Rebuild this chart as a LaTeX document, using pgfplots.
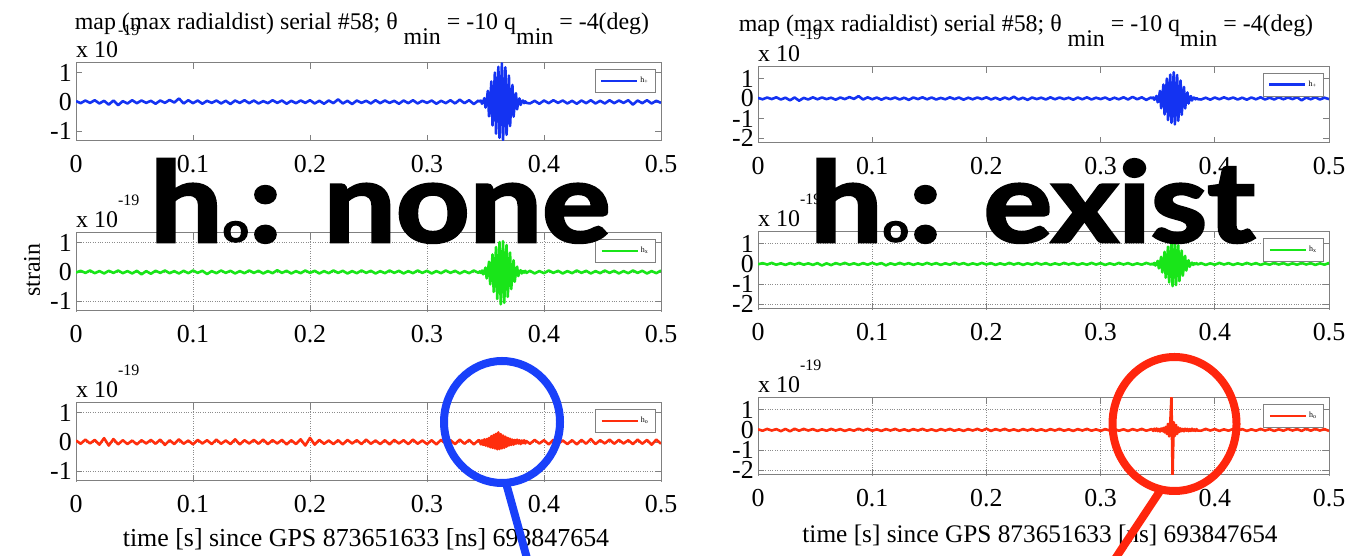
\documentclass[border=0pt]{standalone}
\usepackage{fontspec}
\setmainfont{Liberation Serif}
\newfontfamily\ovfont{Lato}[BoldFeatures={FakeBold=2.5}]
\usepackage{pgfplots}
\usepackage{pgfplotstable}
\pgfplotsset{compat=1.18}
\definecolor{mblue}{rgb}{0.08,0.2,0.95}
\definecolor{mgreen}{rgb}{0.1,0.9,0.1}
\definecolor{mred}{rgb}{1,0.18,0.05}
\definecolor{cblue}{rgb}{0.1,0.25,0.98}
\definecolor{cred}{rgb}{1,0.15,0.05}

\pgfplotstableread{
x hp hx hol hor
0.000 0.03 -0.02 0.05 0.03
0.004 -0.04 0.04 -0.06 -0.04
0.008 0.05 -0.03 0.08 0.05
0.012 -0.03 0.05 -0.05 -0.03
0.016 0.06 -0.04 0.07 0.04
0.020 -0.05 0.03 -0.09 -0.06
0.024 0.04 -0.05 0.13 0.05
0.028 -0.09 0.04 -0.12 -0.07
0.032 0.05 -0.03 0.10 0.06
0.036 -0.11 0.05 -0.08 -0.04
0.040 0.03 -0.04 0.06 0.05
0.044 -0.05 0.03 -0.07 -0.03
0.048 0.06 -0.05 0.05 0.04
0.052 -0.04 0.04 -0.08 -0.05
0.056 0.05 -0.08 0.06 0.03
0.060 -0.03 0.03 -0.05 -0.04
0.064 0.04 -0.06 0.07 0.05
0.068 -0.06 0.04 -0.06 -0.03
0.072 0.05 -0.03 0.08 0.04
0.076 -0.03 0.05 -0.10 -0.05
0.080 0.07 -0.04 0.06 0.03
0.084 -0.02 0.03 -0.07 -0.04
0.088 0.12 -0.05 0.09 0.06
0.092 -0.05 0.04 -0.06 -0.03
0.096 0.06 -0.04 0.05 0.05
0.100 -0.04 0.05 -0.08 -0.04
0.104 0.05 -0.03 0.07 0.03
0.108 -0.06 0.04 -0.05 -0.05
0.112 0.04 -0.07 0.06 0.04
0.116 -0.03 0.03 -0.07 -0.03
0.120 0.05 -0.04 0.08 0.05
0.124 -0.05 0.05 -0.06 -0.04
0.128 0.04 -0.03 0.05 0.03
0.132 -0.07 0.04 -0.07 -0.05
0.136 0.05 -0.05 0.09 0.04
0.140 -0.03 0.03 -0.08 -0.03
0.144 0.06 -0.04 0.06 0.05
0.148 -0.04 0.05 -0.05 -0.04
0.152 0.05 -0.03 0.07 0.03
0.156 -0.05 0.04 -0.06 -0.05
0.160 0.03 -0.05 0.08 0.04
0.164 -0.04 0.03 -0.07 -0.03
0.168 0.06 -0.04 0.06 0.05
0.172 -0.03 0.06 -0.05 -0.04
0.176 0.05 -0.03 0.07 0.03
0.180 -0.06 0.04 -0.08 -0.05
0.184 0.04 -0.05 0.06 0.04
0.188 -0.04 0.03 -0.07 -0.03
0.192 0.05 -0.04 0.09 0.05
0.196 -0.03 0.05 -0.12 -0.04
0.200 0.06 -0.03 0.14 0.06
0.204 -0.05 0.04 -0.09 -0.05
0.208 0.04 -0.05 0.07 0.04
0.212 -0.06 0.03 -0.06 -0.03
0.216 0.05 -0.04 0.05 0.05
0.220 -0.04 0.05 -0.07 -0.04
0.224 0.09 -0.03 0.06 0.03
0.228 -0.05 0.04 -0.08 -0.05
0.232 0.04 -0.05 0.07 0.04
0.236 -0.07 0.03 -0.05 -0.03
0.240 0.05 -0.04 0.06 0.05
0.244 -0.03 0.05 -0.07 -0.04
0.248 0.04 -0.03 0.08 0.03
0.252 -0.05 0.04 -0.06 -0.05
0.256 0.06 -0.05 0.05 0.04
0.260 -0.04 0.03 -0.07 -0.03
0.264 0.05 -0.04 0.06 0.05
0.268 -0.03 0.05 -0.08 -0.04
0.272 0.04 -0.03 0.07 0.03
0.276 -0.06 0.04 -0.05 -0.05
0.280 0.05 -0.05 0.06 0.04
0.284 -0.04 0.03 -0.07 -0.03
0.288 0.06 -0.04 0.08 0.05
0.292 -0.05 0.05 -0.06 -0.04
0.296 0.04 -0.03 0.05 0.03
0.300 -0.03 0.04 -0.07 -0.05
0.304 0.05 -0.05 0.06 0.04
0.308 -0.06 0.03 -0.08 -0.03
0.312 0.04 -0.04 0.07 0.05
0.316 -0.04 0.05 -0.05 -0.04
0.320 0.06 -0.03 0.06 0.03
0.324 -0.05 0.04 -0.07 -0.05
0.328 0.08 -0.05 0.08 0.04
0.332 -0.04 0.03 -0.06 -0.03
0.336 0.06 -0.04 0.07 0.05
0.340 -0.07 0.05 -0.08 -0.04
0.344 0.05 -0.03 0.06 0.03
0.345 0.01 0.02 0.05 0.04
0.346 0.05 -0.03 -0.08 -0.05
0.347 -0.06 0.05 0.06 0.06
0.348 0.01 -0.08 -0.10 -0.04
0.349 0.13 0.02 0.09 0.07
0.350 -0.19 0.15 -0.12 -0.06
0.351 0.02 -0.22 0.10 0.05
0.352 0.38 0.01 -0.15 -0.08
0.353 -0.49 0.35 0.14 0.07
0.354 -0.03 -0.42 -0.18 -0.06
0.355 0.70 -0.02 0.20 0.10
0.356 -0.80 0.60 -0.20 -0.12
0.357 0.04 -0.68 0.24 0.15
0.358 1.00 0.03 -0.22 -0.20
0.359 -1.08 0.85 0.28 0.30
0.360 0.05 -0.92 -0.25 -0.32
0.361 1.20 -0.03 0.33 0.35
0.362 -1.22 1.02 -0.24 1.65
0.363 -0.03 -1.10 0.27 -2.30
0.364 1.32 0.02 -0.22 0.38
0.365 -1.30 1.05 0.22 -0.30
0.366 0.04 -1.05 -0.20 0.25
0.367 1.18 -0.02 0.18 -0.20
0.368 -1.12 0.92 -0.16 0.12
0.369 -0.02 -0.85 0.14 -0.10
0.370 0.90 0.03 -0.12 0.07
0.371 -0.82 0.66 0.11 -0.06
0.372 0.03 -0.58 -0.10 0.05
0.373 0.58 -0.01 0.08 -0.07
0.374 -0.50 0.40 -0.09 0.06
0.375 -0.02 -0.33 0.07 -0.04
0.376 0.30 0.02 -0.06 0.05
0.377 -0.25 0.18 0.08 -0.06
0.378 0.02 -0.14 -0.05 0.04
0.379 0.12 0.01 0.06 -0.05
0.380 -0.10 0.06 -0.07 0.06
0.381 0.03 -0.05 0.05 -0.04
0.382 0.05 0.03 -0.04 0.03
0.383 -0.04 -0.02 0.06 -0.05
0.384 0.02 0.04 -0.05 0.04
0.385 -0.03 -0.03 0.03 -0.03
0.388 -0.05 0.04 -0.06 -0.04
0.392 0.04 -0.05 0.07 0.05
0.396 -0.06 0.03 -0.05 -0.03
0.400 0.05 -0.04 0.06 0.04
0.404 -0.04 0.05 -0.08 -0.05
0.408 0.06 -0.03 0.07 0.03
0.412 -0.03 0.04 -0.06 -0.04
0.416 0.05 -0.05 0.05 0.05
0.420 -0.05 0.03 -0.07 -0.03
0.424 0.04 -0.04 0.06 0.04
0.428 -0.06 0.05 -0.08 -0.05
0.432 0.05 -0.03 0.07 0.03
0.436 -0.04 0.04 -0.06 -0.04
0.440 0.06 -0.05 0.10 0.05
0.444 -0.05 0.03 -0.07 -0.03
0.448 0.04 -0.04 0.06 0.04
0.452 -0.05 0.05 -0.05 -0.05
0.456 0.06 -0.03 0.08 0.03
0.460 -0.04 0.04 -0.06 -0.04
0.464 0.05 -0.05 0.07 0.05
0.468 -0.03 0.03 -0.05 -0.03
0.472 0.06 -0.04 0.06 0.04
0.476 -0.09 0.05 -0.07 -0.05
0.480 0.05 -0.03 0.08 0.06
0.484 -0.04 0.04 -0.06 -0.04
0.488 0.06 -0.05 0.07 0.05
0.492 -0.05 0.03 -0.09 -0.03
0.496 0.04 -0.04 0.08 0.04
0.500 -0.03 0.05 -0.06 -0.05
}\sig

\pgfplotsset{
  strainax/.style={
    scale only axis,
    clip mode=individual,
    xmin=0, xmax=0.5,
    xtick={0,0.1,0.2,0.3,0.4,0.5},
    axis line style={draw=black!50, line width=1bp},
    tick style={draw=black!50, line width=0.8bp},
    major tick length=6bp,
    tick align=inside,
    tick pos=both,
    ticklabel pos=default,
    tick label style={font=\fontsize{26}{28}\selectfont},
    /pgf/number format/assume math mode=true,
    xticklabel style={/pgf/number format/fixed, /pgf/number format/precision=1, yshift=-11bp},
    yticklabel style={inner xsep=4bp},
    scaled ticks=false,
    every axis plot/.append style={line width=2.6bp, line join=round},
    legend style={at={(rel axis cs:0.991,0.923)}, anchor=north east,
      draw=black!50, fill=white, line width=0.8bp,
      font=\fontsize{8}{9}\selectfont, inner xsep=5bp, inner ysep=6bp},
    legend image code/.code={\draw[##1, line width=2.5bp] (0bp,0bp) -- (36bp,0bp);},
  },
  leftax/.style={strainax, width=585bp, height=78bp, ymin=-1.33, ymax=1.33, ytick={-1,0,1}},
  rightax/.style={strainax, width=571bp, height=77bp, ymin=-2.23, ymax=1.58, ytick={-2,-1,0,1}},
  gridon/.style={grid=major, major grid style={dotted, black!45, line width=0.8bp}},
}
\newcommand{\sclabel}{\node[anchor=base west, inner sep=0pt, font=\fontsize{24}{26}\selectfont, yshift=5bp] at (rel axis cs:0,1) {x 10\raisebox{22bp}{\fontsize{16}{16}\selectfont -19}};}

\begin{document}
\begin{tikzpicture}[x=1bp, y=1bp]
\useasboundingbox (0,0) rectangle (1362,556);

% ---------- left column ----------
\begin{axis}[leftax, at={(76bp,415bp)}, anchor=south west]
\addplot[mblue] table[x=x, y=hp] {\sig};
\addlegendentry{h\textsubscript{+}}
\sclabel
\end{axis}
\begin{axis}[leftax, gridon, at={(76bp,245bp)}, anchor=south west]
\addplot[mgreen] table[x=x, y=hx] {\sig};
\addlegendentry{h\textsubscript{x}}
\sclabel
\end{axis}
\begin{axis}[leftax, gridon, at={(76bp,75bp)}, anchor=south west]
\addplot[mred] table[x=x, y=hol] {\sig};
\addlegendentry{h\textsubscript{o}}
\sclabel
\end{axis}

% ---------- right column ----------
\begin{axis}[rightax, height=76bp, at={(758bp,413bp)}, anchor=south west]
\addplot[mblue] table[x=x, y=hp] {\sig};
\addlegendentry{h\textsubscript{+}}
\sclabel
\end{axis}
\begin{axis}[rightax, gridon, at={(758bp,247bp)}, anchor=south west]
\addplot[mgreen] table[x=x, y=hx] {\sig};
\addlegendentry{h\textsubscript{x}}
\sclabel
\end{axis}
\begin{axis}[rightax, gridon, at={(758bp,81bp)}, anchor=south west]
\addplot[mred] table[x=x, y=hor] {\sig};
\addlegendentry{h\textsubscript{o}}
\sclabel
\end{axis}

% titles and labels
\node[anchor=base, inner sep=0pt, font=\fontsize{24}{26}\selectfont] at (362,526)
  {map (max radialdist) serial \#58;\ θ\hspace{6bp}\raisebox{-15bp}{min} = -10 q\raisebox{-15bp}{min} = -4(deg)};
\node[anchor=base, inner sep=0pt, font=\fontsize{24}{26}\selectfont] at (1026,524)
  {map (max radialdist) serial \#58;\ θ\hspace{6bp}\raisebox{-15bp}{min} = -10 q\raisebox{-15bp}{min} = -4(deg)};
\node[anchor=base, inner sep=0pt, font=\fontsize{26}{28}\selectfont] at (366,9)
  {time [s] since GPS 873651633 [ns] 693847654};
\node[anchor=base, inner sep=0pt, font=\fontsize{25.4}{28}\selectfont] at (1040,13)
  {time [s] since GPS 873651633 [ns] 693847654};
\node[rotate=90, inner sep=0pt, font=\fontsize{24}{26}\selectfont] at (32,286) {strain};

% overlay text
\node[anchor=base west, inner sep=0pt, xscale=1.15, font=\ovfont\bfseries\fontsize{112}{112}\selectfont] at (150,314)
  {h{\fontsize{40}{40}\selectfont o}: none};
\node[anchor=base west, inner sep=0pt, xscale=1.15, font=\ovfont\bfseries\fontsize{112}{112}\selectfont] at (810,314)
  {h{\fontsize{40}{40}\selectfont o}: exist};

% circles
\draw[cblue, line width=8bp] (502,134) ellipse [x radius=58bp, y radius=61bp];
\draw[cblue, line width=8bp] (506,73) -- (528,-6);
\draw[cred, line width=8bp] (1174.5,132) ellipse [x radius=62bp, y radius=67bp];
\draw[cred, line width=8bp] (1160,65) -- (1113,-6);
\end{tikzpicture}
\end{document}
